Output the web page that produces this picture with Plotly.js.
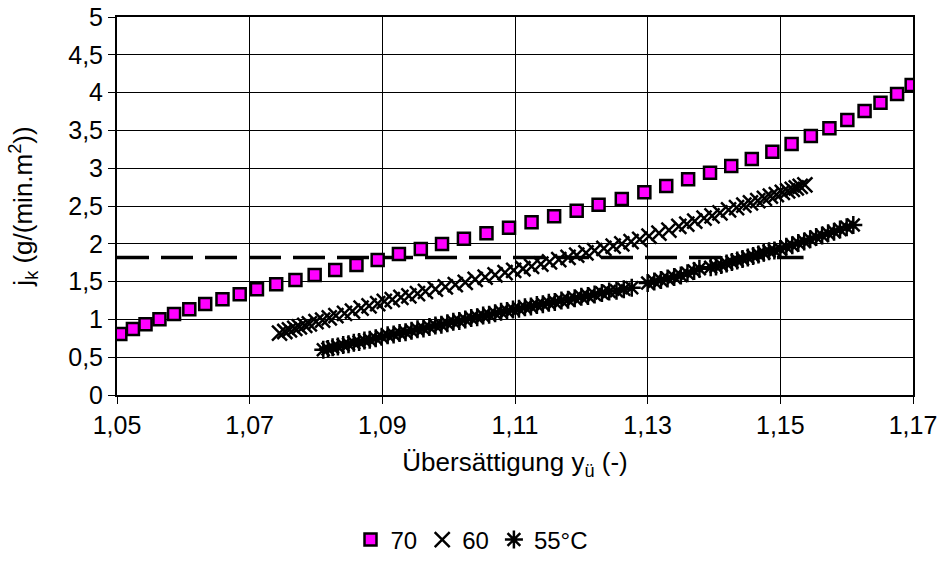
<!DOCTYPE html>
<html>
<head>
<meta charset="utf-8">
<script src="https://cdn.plot.ly/plotly-3.0.1.min.js"></script>
<style>html,body{margin:0;padding:0;background:#fff;}#chart{width:944px;height:566px;}</style>
</head>
<body>
<div id="chart"></div>
<script>
// Series 70 (pink squares)
const x70 = [1.0505,1.0524,1.0543,1.0564,1.0586,1.0609,1.0633,1.0659,1.0685,1.0711,1.0740,1.0769,1.0798,1.0829,1.0861,1.0893,1.0925,1.0958,1.0990,1.1023,1.1057,1.1091,1.1125,1.1159,1.1193,1.1226,1.1261,1.1295,1.1328,1.1361,1.1394,1.1426,1.1457,1.1488,1.1517,1.1546,1.1574,1.1601,1.1627,1.1651,1.1676,1.1698];
const y70 = [0.807,0.873,0.935,1.001,1.071,1.134,1.204,1.266,1.332,1.398,1.464,1.521,1.587,1.653,1.720,1.786,1.865,1.931,1.997,2.068,2.139,2.213,2.284,2.363,2.438,2.517,2.593,2.681,2.765,2.853,2.941,3.029,3.122,3.219,3.320,3.426,3.527,3.638,3.757,3.867,3.982,4.101];

// Series 60 (x markers)
const x60 = [1.0745,1.0753,1.0760,1.0768,1.0775,1.0783,1.0790,1.0800,1.0810,1.0820,1.0830,1.0843,1.0855,1.0868,1.0880,1.0893,1.0903,1.0915,1.0928,1.0940,1.0953,1.0965,1.0980,1.0995,1.1010,1.1025,1.1040,1.1055,1.1070,1.1085,1.1098,1.1112,1.1125,1.1139,1.1152,1.1166,1.1180,1.1193,1.1207,1.1220,1.1234,1.1248,1.1261,1.1275,1.1288,1.1302,1.1317,1.1332,1.1347,1.1359,1.1371,1.1385,1.1397,1.1409,1.1422,1.1434,1.1445,1.1455,1.1466,1.1476,1.1485,1.1494,1.1503,1.1511,1.1518,1.1524,1.1530,1.1537];
const y60 = [0.82,0.84,0.86,0.88,0.90,0.92,0.94,0.97,0.99,1.02,1.05,1.08,1.11,1.15,1.18,1.21,1.24,1.26,1.29,1.31,1.34,1.37,1.40,1.43,1.46,1.49,1.53,1.56,1.59,1.62,1.65,1.67,1.70,1.73,1.76,1.79,1.82,1.85,1.88,1.91,1.94,1.97,2.00,2.03,2.06,2.10,2.14,2.18,2.23,2.26,2.30,2.34,2.37,2.41,2.45,2.48,2.51,2.54,2.57,2.60,2.63,2.65,2.68,2.70,2.72,2.74,2.76,2.78];

// Series 55 °C (asterisk markers)
const x55 = [1.0811,1.0818,1.0825,1.0833,1.0841,1.0849,1.0857,1.0865,1.0873,1.0881,1.0890,1.0899,1.0908,1.0917,1.0926,1.0935,1.0944,1.0953,1.0962,1.0971,1.0980,1.0989,1.0998,1.1007,1.1016,1.1025,1.1034,1.1043,1.1052,1.1061,1.1070,1.1079,1.1088,1.1097,1.1106,1.1115,1.1124,1.1133,1.1142,1.1151,1.1160,1.1170,1.1180,1.1190,1.1200,1.1210,1.1220,1.1231,1.1242,1.1253,1.1264,1.1276,
  1.1300,1.1310,1.1320,1.1330,1.1340,1.1350,1.1360,1.1370,1.1378,
  1.1395,1.1403,1.1411,1.1419,1.1427,1.1435,1.1443,1.1451,1.1459,1.1467,1.1475,1.1483,1.1491,1.1500,1.1509,1.1518,1.1527,1.1536,1.1545,1.1554,1.1563,1.1572,1.1581,1.1590,1.1600,1.1610];
const y55 = [0.60,0.61,0.63,0.64,0.66,0.67,0.69,0.70,0.72,0.73,0.75,0.77,0.79,0.80,0.82,0.83,0.85,0.87,0.88,0.90,0.92,0.93,0.95,0.97,0.98,1.00,1.02,1.03,1.05,1.06,1.08,1.10,1.11,1.13,1.14,1.16,1.17,1.19,1.20,1.22,1.23,1.25,1.26,1.28,1.30,1.31,1.33,1.35,1.37,1.38,1.40,1.42,
  1.48,1.50,1.52,1.54,1.56,1.58,1.61,1.64,1.67,
  1.69,1.70,1.72,1.74,1.76,1.78,1.80,1.82,1.84,1.86,1.88,1.90,1.91,1.93,1.96,1.98,2.01,2.03,2.06,2.09,2.11,2.14,2.16,2.19,2.22,2.25];

// Dashed reference line
const xRef = [1.05, 1.1535];
const yRef = [1.82, 1.82];

const seriesNames = ['70', '60', '55°C'];
const xTicks = [1.05, 1.07, 1.09, 1.11, 1.13, 1.15, 1.17];
const yTicks = [0, 0.5, 1, 1.5, 2, 2.5, 3, 3.5, 4, 4.5, 5];

const FONT = 'Liberation Sans, Arial, sans-serif';
const FS = 25;
const FT = 26;

const traces = [
  {x: xRef, y: yRef, mode: 'lines', line: {color: '#000', width: 3.5, dash: '32px,12px'}, showlegend: false, hoverinfo: 'skip'},
  {x: x55, y: y55, name: seriesNames[2], mode: 'markers',
   marker: {symbol: 'asterisk-open', size: 15, color: '#000', line: {color: '#000', width: 2.5}}},
  {x: x60, y: y60, name: seriesNames[1], mode: 'markers',
   marker: {symbol: 'x-thin-open', size: 15, color: '#000', line: {color: '#000', width: 2.5}}},
  {x: x70, y: y70, name: seriesNames[0], mode: 'markers',
   marker: {symbol: 'square', size: 12, color: '#FF00FF', line: {color: '#000', width: 2.5}}}
];

const layout = {
  width: 944, height: 566,
  paper_bgcolor: '#fff', plot_bgcolor: '#fff',
  separators: ', ',
  font: {family: FONT, size: FS, color: '#000'},
  margin: {l: 117, r: 31, t: 17, b: 171},
  showlegend: true,
  legend: {orientation: 'h', x: 0.5, xanchor: 'center', xref: 'container',
           y: 0.046, yanchor: 'middle', yref: 'container',
           traceorder: 'reversed', font: {family: FONT, size: 24, color: '#000'}, itemwidth: 30, itemgap: 0},
  xaxis: {
    range: [1.05, 1.17], tickvals: xTicks, tickformat: '.2f', automargin: false,
    showgrid: true, gridcolor: '#000', gridwidth: 1,
    showline: true, linecolor: '#000', linewidth: 2, mirror: true,
    ticks: 'outside', ticklen: 7, tickcolor: '#000', zeroline: false,
    title: {text: 'Übersättigung y<sub>ü</sub> (-)', standoff: 15, font: {family: FONT, size: FT, color: '#000'}}
  },
  yaxis: {
    range: [0, 5], tickvals: yTicks, automargin: false,
    showgrid: true, gridcolor: '#000', gridwidth: 1,
    showline: true, linecolor: '#000', linewidth: 2, mirror: true,
    ticks: 'outside', ticklen: 7, tickcolor: '#000', zeroline: false,
    title: {text: 'j<sub>k</sub> (g/(min.m<sup>2</sup>))', standoff: 28, font: {family: FONT, size: FT, color: '#000'}}
  }
};

Plotly.newPlot('chart', traces, layout, {displayModeBar: false, staticPlot: true});
</script>
</body>
</html>
